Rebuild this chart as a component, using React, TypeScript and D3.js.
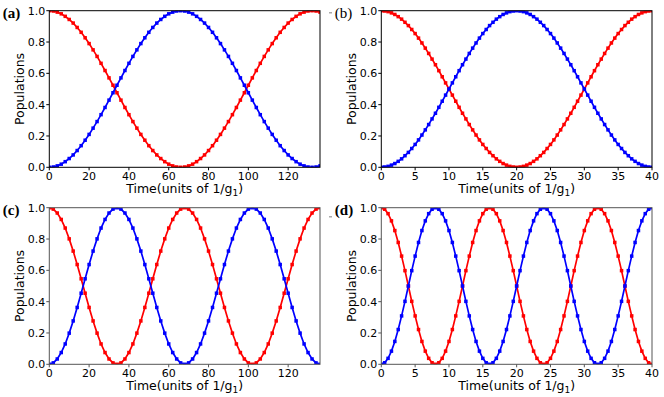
import React from 'react';
import * as d3 from 'd3';

// ---- data ----
const TIME_LONG = [0,2,4,6,8,10,12,14,16,18,20,22,24,26,28,30,32,34,36,38,40,42,44,46,48,50,52,54,56,58,60,62,64,66,68,70,72,74,76,78,80,82,84,86,88,90,92,94,96,98,100,102,104,106,108,110,112,114,116,118,120,122,124,126,128,130,132,134,136];
const TIME_SHORT = [0,0.5,1,1.5,2,2.5,3,3.5,4,4.5,5,5.5,6,6.5,7,7.5,8,8.5,9,9.5,10,10.5,11,11.5,12,12.5,13,13.5,14,14.5,15,15.5,16,16.5,17,17.5,18,18.5,19,19.5,20,20.5,21,21.5,22,22.5,23,23.5,24,24.5,25,25.5,26,26.5,27,27.5,28,28.5,29,29.5,30,30.5,31,31.5,32,32.5,33,33.5,34,34.5,35,35.5,36,36.5,37,37.5,38,38.5,39,39.5,40];

const RED_A = [1.000,0.998,0.991,0.980,0.964,0.944,0.921,0.893,0.862,0.827,0.790,0.750,0.708,0.664,0.618,0.571,0.524,0.476,0.429,0.382,0.336,0.292,0.250,0.210,0.173,0.138,0.107,0.079,0.056,0.036,0.020,0.009,0.002,0.000,
  0.002,0.009,0.020,0.036,0.056,0.079,0.107,0.138,0.173,0.210,0.250,0.292,0.336,0.382,0.429,0.476,0.524,0.571,0.618,0.664,0.708,0.750,0.790,0.827,0.862,0.893,0.921,0.944,0.964,0.980,0.991,0.998,1.000,
  0.998,0.991];
const BLUE_A = [0.000,0.002,0.009,0.020,0.036,0.056,0.079,0.107,0.138,0.173,0.210,0.250,0.292,0.336,0.382,0.429,0.476,0.524,0.571,0.618,0.664,0.708,0.750,0.790,0.827,0.862,0.893,0.921,0.944,0.964,0.980,0.991,0.998,1.000,
  0.998,0.991,0.980,0.964,0.944,0.921,0.893,0.862,0.827,0.790,0.750,0.708,0.664,0.618,0.571,0.524,0.476,0.429,0.382,0.336,0.292,0.250,0.210,0.173,0.138,0.107,0.079,0.056,0.036,0.020,0.009,0.002,0.000,
  0.002,0.009];

const RED_B = [1.000,0.998,0.994,0.986,0.976,0.962,0.946,0.926,0.905,0.880,0.854,0.825,0.794,0.761,0.727,0.691,0.655,0.617,0.578,0.539,0.500,0.461,0.422,0.383,0.345,0.309,0.273,0.239,0.206,0.175,0.146,0.120,0.095,0.074,0.054,0.038,0.024,0.014,0.006,0.002,0.000,
  0.002,0.006,0.014,0.024,0.038,0.054,0.074,0.095,0.120,0.146,0.175,0.206,0.239,0.273,0.309,0.345,0.383,0.422,0.461,0.500,0.539,0.578,0.617,0.655,0.691,0.727,0.761,0.794,0.825,0.854,0.880,0.905,0.926,0.946,0.962,0.976,0.986,0.994,0.998,1.000];
const BLUE_B = [0.000,0.002,0.006,0.014,0.024,0.038,0.054,0.074,0.095,0.120,0.146,0.175,0.206,0.239,0.273,0.309,0.345,0.383,0.422,0.461,0.500,0.539,0.578,0.617,0.655,0.691,0.727,0.761,0.794,0.825,0.854,0.880,0.905,0.926,0.946,0.962,0.976,0.986,0.994,0.998,1.000,
  0.998,0.994,0.986,0.976,0.962,0.946,0.926,0.905,0.880,0.854,0.825,0.794,0.761,0.727,0.691,0.655,0.617,0.578,0.539,0.500,0.461,0.422,0.383,0.345,0.309,0.273,0.239,0.206,0.175,0.146,0.120,0.095,0.074,0.054,0.038,0.024,0.014,0.006,0.002,0.000];

const RED_C = [1.000,0.991,0.966,0.925,0.870,0.801,0.723,0.637,0.546,0.454,0.363,0.277,0.199,0.130,0.075,0.034,0.009,0.000,0.009,0.034,0.075,0.130,0.199,0.277,0.363,0.454,0.546,0.637,0.723,0.801,0.870,0.925,0.966,0.991,1.000,
  0.991,0.966,0.925,0.870,0.801,0.723,0.637,0.546,0.454,0.363,0.277,0.199,0.130,0.075,0.034,0.009,0.000,0.009,0.034,0.075,0.130,0.199,0.277,0.363,0.454,0.546,0.637,0.723,0.801,0.870,0.925,0.966,0.991,1.000];
const BLUE_C = [0.000,0.009,0.034,0.075,0.130,0.199,0.277,0.363,0.454,0.546,0.637,0.723,0.801,0.870,0.925,0.966,0.991,1.000,0.991,0.966,0.925,0.870,0.801,0.723,0.637,0.546,0.454,0.363,0.277,0.199,0.130,0.075,0.034,0.009,0.000,
  0.009,0.034,0.075,0.130,0.199,0.277,0.363,0.454,0.546,0.637,0.723,0.801,0.870,0.925,0.966,0.991,1.000,0.991,0.966,0.925,0.870,0.801,0.723,0.637,0.546,0.454,0.363,0.277,0.199,0.130,0.075,0.034,0.009,0.000];

const RED_D = [1.000,0.990,0.962,0.916,0.854,0.778,0.691,0.598,0.500,0.402,0.309,0.222,0.146,0.084,0.038,0.010,0.000,0.010,0.038,0.084,0.146,0.222,0.309,0.402,0.500,0.598,0.691,0.778,0.854,0.916,0.962,0.990,
  1.000,0.990,0.962,0.916,0.854,0.778,0.691,0.598,0.500,0.402,0.309,0.222,0.146,0.084,0.038,0.010,0.000,0.010,0.038,0.084,0.146,0.222,0.309,0.402,0.500,0.598,0.691,0.778,0.854,0.916,0.962,0.990,
  1.000,0.990,0.962,0.916,0.854,0.778,0.691,0.598,0.500,0.402,0.309,0.222,0.146,0.084,0.038,0.010,0.000];
const BLUE_D = [0.000,0.010,0.038,0.084,0.146,0.222,0.309,0.402,0.500,0.598,0.691,0.778,0.854,0.916,0.962,0.990,1.000,0.990,0.962,0.916,0.854,0.778,0.691,0.598,0.500,0.402,0.309,0.222,0.146,0.084,0.038,0.010,
  0.000,0.010,0.038,0.084,0.146,0.222,0.309,0.402,0.500,0.598,0.691,0.778,0.854,0.916,0.962,0.990,1.000,0.990,0.962,0.916,0.854,0.778,0.691,0.598,0.500,0.402,0.309,0.222,0.146,0.084,0.038,0.010,
  0.000,0.010,0.038,0.084,0.146,0.222,0.309,0.402,0.500,0.598,0.691,0.778,0.854,0.916,0.962,0.990,1.000];

const Y_TICKS = [0, 0.2, 0.4, 0.6, 0.8, 1.0];
const X_TICKS_LONG = [0, 20, 40, 60, 80, 100, 120];
const X_TICKS_SHORT = [0, 5, 10, 15, 20, 25, 30, 35, 40];
const PANEL_LABELS = ['(a)', '(b)', '(c)', '(d)'];
const X_LABEL = 'Time(units of 1/g';
const X_LABEL_SUB = '1';
const Y_LABEL = 'Populations';

const FONT = 'DejaVu Sans';
const RED = '#ff0000';
const BLUE = '#0000ff';

type PanelProps = {
  id: string; label: string; bold: boolean; left: number; top: number;
  xMax: number; xTicks: number[]; time: number[]; red: number[]; blue: number[]; frame: string;
};

function Panel({ id, label, bold, left, top, xMax, xTicks, time, red, blue, frame }: PanelProps) {
  const w = 270.7, h = 156.6;
  const x = d3.scaleLinear().domain([0, xMax]).range([left, left + w]);
  const y = d3.scaleLinear().domain([0, 1]).range([top + h, top]);
  const line = d3.line<number>().x((_, i) => x(time[i])).y(v => y(v));
  const fmtY = d3.format('.1f');
  const ms = 3.5;
  const series = [
    { vals: red, color: RED },
    { vals: blue, color: BLUE },
  ];
  return (
    <g>
      <defs>
        <clipPath id={`clip-${id}`}>
          <rect x={left} y={top} width={w} height={h} />
        </clipPath>
      </defs>
      <g clipPath={`url(#clip-${id})`}>
        {series.map((s, si) => (
          <g key={si}>
            <path d={line(s.vals) || ''} fill="none" stroke={s.color} strokeWidth={1.7} />
            {s.vals.map((v, i) => (
              <rect key={i} x={x(time[i]) - ms / 2} y={y(v) - ms / 2} width={ms} height={ms} fill={s.color} />
            ))}
          </g>
        ))}
      </g>
      <rect x={left} y={top} width={w} height={h} fill="none" stroke={frame} strokeWidth={1} />
      {Y_TICKS.map(t => (
        <g key={t}>
          <line x1={left - 3} x2={left} y1={y(t)} y2={y(t)} stroke={frame} strokeWidth={1} />
          <text x={left - 4} y={y(t)} dy="0.36em" textAnchor="end" fontFamily={FONT} fontSize={11} fill="#000">{fmtY(t)}</text>
        </g>
      ))}
      {xTicks.map(t => (
        <g key={t}>
          <line x1={x(t)} x2={x(t)} y1={top + h} y2={top + h + 3} stroke={frame} strokeWidth={1} />
          <text x={x(t)} y={top + h + 12.5} textAnchor="middle" fontFamily={FONT} fontSize={11} fill="#000">{t}</text>
        </g>
      ))}
      <text x={left + w / 2} y={top + h + 26} textAnchor="middle" fontFamily={FONT} fontSize={12.5} fill="#000">
        {X_LABEL}<tspan fontSize={9} dy={2.5}>{X_LABEL_SUB}</tspan><tspan dy={-2.5}>)</tspan>
      </text>
      <text transform={`translate(${left - 25.5},${top + h / 2}) rotate(-90)`} textAnchor="middle" fontFamily={FONT} fontSize={12.5} fill="#000">{Y_LABEL}</text>
      <text x={left - 46.5} y={top + 7} fontFamily="Liberation Serif" fontWeight={bold ? 'bold' : 'normal'} fontSize={15} fill="#000">{label}</text>
    </g>
  );
}

export default function App() {
  return (
    <svg width={664} height={397} style={{ position: 'absolute', left: 0, top: 0, background: '#fff' }}>
      <rect x={0} y={0} width={664} height={397} fill="#fff" />
      <Panel id="a" label={PANEL_LABELS[0]} bold={true} left={49.3} top={10.7} xMax={136} xTicks={X_TICKS_LONG} time={TIME_LONG} red={RED_A} blue={BLUE_A} frame="#000" />
      <Panel id="b" label={PANEL_LABELS[1]} bold={false} left={381.3} top={10.7} xMax={40} xTicks={X_TICKS_SHORT} time={TIME_SHORT} red={RED_B} blue={BLUE_B} frame="#000" />
      <Panel id="c" label={PANEL_LABELS[2]} bold={true} left={49.3} top={207.7} xMax={136} xTicks={X_TICKS_LONG} time={TIME_LONG} red={RED_C} blue={BLUE_C} frame="#555" />
      <Panel id="d" label={PANEL_LABELS[3]} bold={true} left={381.3} top={207.7} xMax={40} xTicks={X_TICKS_SHORT} time={TIME_SHORT} red={RED_D} blue={BLUE_D} frame="#555" />
      <rect x={329} y={12} width={3} height={1.5} fill="#aaa" />
      <rect x={329} y={216} width={3} height={1.5} fill="#aaa" />
    </svg>
  );
}
